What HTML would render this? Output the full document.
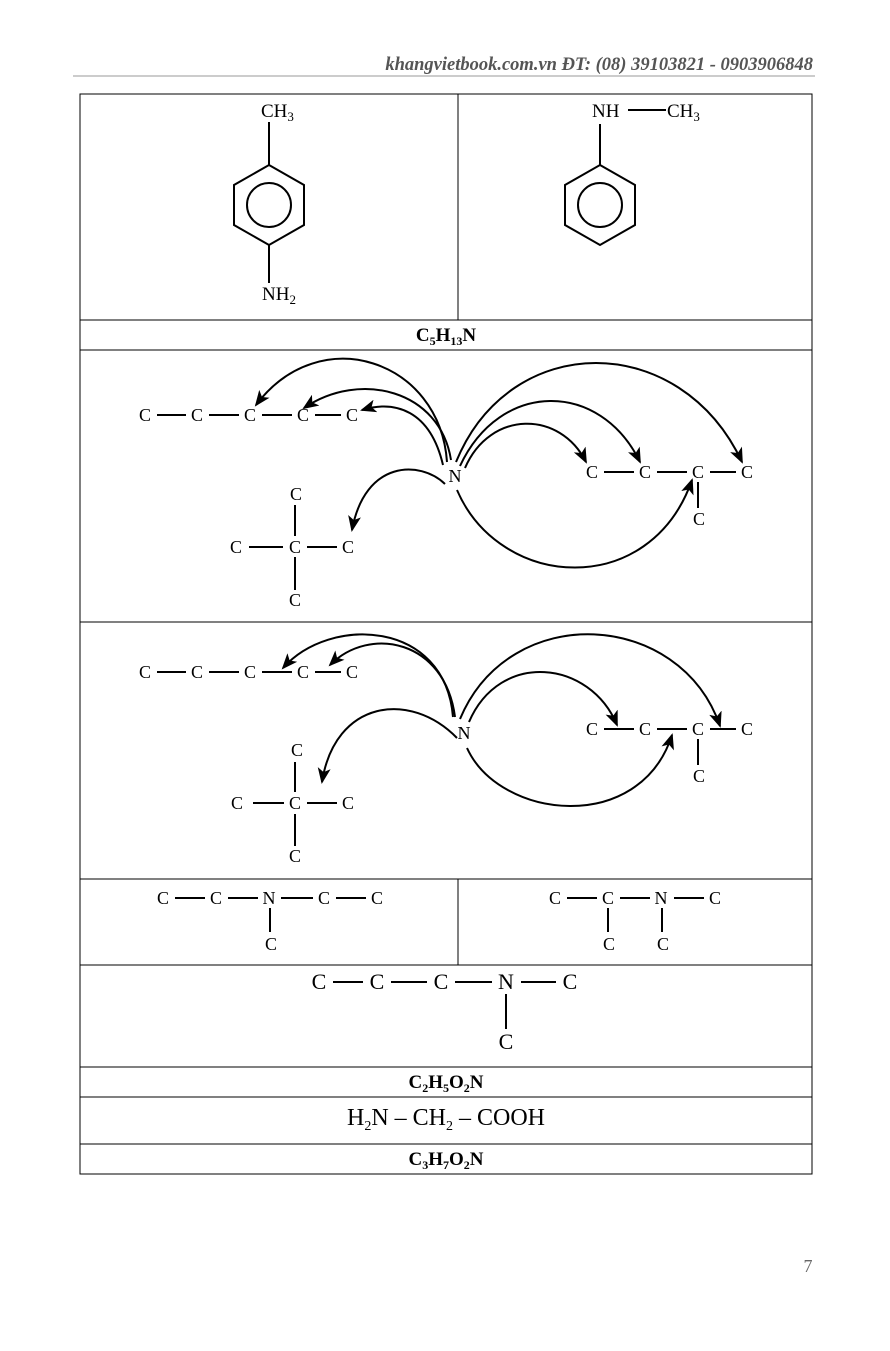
<!DOCTYPE html>
<html><head><style>
body{margin:0;background:#fff}
svg text{font-family:"Liberation Serif",serif;fill:#000}
</style></head><body>
<svg width="890" height="1346" viewBox="0 0 890 1346" xmlns="http://www.w3.org/2000/svg">
<defs>
<marker id="a" markerWidth="16" markerHeight="13" refX="14" refY="6.5" orient="auto" markerUnits="userSpaceOnUse">
<path d="M0,0 L16,6.5 L0,13 L4,6.5 Z" fill="#000"/>
</marker>
</defs>
<text x="813" y="70" text-anchor="end" font-size="18.5" font-style="italic" font-weight="bold" style="fill:#555">khangvietbook.com.vn  ĐT: (08) 39103821 - 0903906848</text>
<line x1="73" y1="76" x2="815" y2="76" stroke="#999" stroke-width="1"/>
<g stroke="#000" stroke-width="1" fill="none">
<rect x="80" y="94" width="732" height="1080"/>
<line x1="80" y1="320" x2="812" y2="320"/><line x1="80" y1="350" x2="812" y2="350"/>
<line x1="80" y1="622" x2="812" y2="622"/><line x1="80" y1="879" x2="812" y2="879"/>
<line x1="80" y1="965" x2="812" y2="965"/><line x1="80" y1="1067" x2="812" y2="1067"/>
<line x1="80" y1="1097" x2="812" y2="1097"/><line x1="80" y1="1144" x2="812" y2="1144"/>
<line x1="458" y1="94" x2="458" y2="320"/><line x1="458" y1="879" x2="458" y2="965"/>
</g>
<g stroke="#000" stroke-width="2" fill="none">
<polygon points="269,165 304,185 304,225 269,245 234,225 234,185"/>
<circle cx="269" cy="205" r="22"/>
<line x1="269" y1="122" x2="269" y2="165"/><line x1="269" y1="245" x2="269" y2="283"/>
<polygon points="600,165 635,185 635,225 600,245 565,225 565,185"/>
<circle cx="600" cy="205" r="22"/>
<line x1="600" y1="124" x2="600" y2="165"/><line x1="628" y1="110" x2="666" y2="110"/>
</g>
<g font-size="19">
<text x="261" y="117">CH<tspan font-size="13" dy="4">3</tspan></text>
<text x="262" y="300">NH<tspan font-size="13" dy="4">2</tspan></text>
<text x="592" y="117">NH</text>
<text x="667" y="117">CH<tspan font-size="13" dy="4">3</tspan></text>
</g>
<text x="446" y="341" text-anchor="middle" font-size="19" font-weight="bold">C<tspan font-size="12" dy="4">5</tspan><tspan dy="-4">H</tspan><tspan font-size="12" dy="4">13</tspan><tspan dy="-4">N</tspan></text>

<!-- diagram 1 -->
<g font-size="18" text-anchor="middle">
<text x="145" y="421">C</text><text x="197" y="421">C</text><text x="250" y="421">C</text><text x="303" y="421">C</text><text x="352" y="421">C</text>
<text x="455" y="482">N</text>
<text x="592" y="478">C</text><text x="645" y="478">C</text><text x="698" y="478">C</text><text x="747" y="478">C</text><text x="699" y="525">C</text>
<text x="296" y="500">C</text><text x="236" y="553">C</text><text x="295" y="553">C</text><text x="348" y="553">C</text><text x="295" y="606">C</text>
</g>
<g stroke="#000" stroke-width="2" fill="none">
<line x1="157" y1="415" x2="186" y2="415"/><line x1="209" y1="415" x2="239" y2="415"/><line x1="262" y1="415" x2="292" y2="415"/><line x1="315" y1="415" x2="341" y2="415"/>
<line x1="604" y1="472" x2="634" y2="472"/><line x1="657" y1="472" x2="687" y2="472"/><line x1="710" y1="472" x2="736" y2="472"/><line x1="698" y1="482" x2="698" y2="508"/>
<line x1="249" y1="547" x2="283" y2="547"/><line x1="307" y1="547" x2="337" y2="547"/><line x1="295" y1="505" x2="295" y2="536"/><line x1="295" y1="557" x2="295" y2="590"/>
</g>
<g stroke="#000" stroke-width="2" fill="none" marker-end="url(#a)">
<path d="M447,462 C440,360 320,320 256,405"/>
<path d="M451,460 C440,390 360,370 304,408"/>
<path d="M443,465 C430,410 395,400 362,410"/>
<path d="M445,484 C420,460 365,460 352,530"/>
<path d="M456,462 C510,330 680,330 742,462"/>
<path d="M460,466 C500,380 600,380 640,462"/>
<path d="M465,468 C490,410 560,410 586,462"/>
<path d="M457,490 C500,590 650,600 692,480"/>
</g>

<!-- diagram 2 -->
<g font-size="18" text-anchor="middle">
<text x="145" y="678">C</text><text x="197" y="678">C</text><text x="250" y="678">C</text><text x="303" y="678">C</text><text x="352" y="678">C</text>
<text x="464" y="739">N</text>
<text x="592" y="735">C</text><text x="645" y="735">C</text><text x="698" y="735">C</text><text x="747" y="735">C</text><text x="699" y="782">C</text>
<text x="297" y="756">C</text><text x="237" y="809">C</text><text x="295" y="809">C</text><text x="348" y="809">C</text><text x="295" y="862">C</text>
</g>
<g stroke="#000" stroke-width="2" fill="none">
<line x1="157" y1="672" x2="186" y2="672"/><line x1="209" y1="672" x2="239" y2="672"/><line x1="262" y1="672" x2="292" y2="672"/><line x1="315" y1="672" x2="341" y2="672"/>
<line x1="604" y1="729" x2="634" y2="729"/><line x1="657" y1="729" x2="687" y2="729"/><line x1="710" y1="729" x2="736" y2="729"/><line x1="698" y1="739" x2="698" y2="765"/>
<line x1="253" y1="803" x2="284" y2="803"/><line x1="307" y1="803" x2="337" y2="803"/><line x1="295" y1="762" x2="295" y2="792"/><line x1="295" y1="814" x2="295" y2="846"/>
</g>
<g stroke="#000" stroke-width="2" fill="none" marker-end="url(#a)">
<path d="M453,717 C445,620 330,615 283,668"/>
<path d="M455,717 C445,640 370,625 330,665"/>
<path d="M457,738 C410,690 335,700 322,782"/>
<path d="M460,719 C510,600 680,610 720,726"/>
<path d="M469,722 C500,650 590,660 617,725"/>
<path d="M467,748 C500,820 640,835 672,735"/>
</g>

<!-- small structures -->
<g font-size="18" text-anchor="middle">
<text x="163" y="904">C</text><text x="216" y="904">C</text><text x="269" y="904">N</text><text x="324" y="904">C</text><text x="377" y="904">C</text><text x="271" y="950">C</text>
<text x="555" y="904">C</text><text x="608" y="904">C</text><text x="661" y="904">N</text><text x="715" y="904">C</text><text x="609" y="950">C</text><text x="663" y="950">C</text>
</g>
<g stroke="#000" stroke-width="2" fill="none">
<line x1="175" y1="898" x2="205" y2="898"/><line x1="228" y1="898" x2="258" y2="898"/><line x1="281" y1="898" x2="313" y2="898"/><line x1="336" y1="898" x2="366" y2="898"/><line x1="270" y1="908" x2="270" y2="932"/>
<line x1="567" y1="898" x2="597" y2="898"/><line x1="620" y1="898" x2="650" y2="898"/><line x1="674" y1="898" x2="704" y2="898"/><line x1="608" y1="908" x2="608" y2="932"/><line x1="662" y1="908" x2="662" y2="932"/>
</g>
<g font-size="22" text-anchor="middle">
<text x="319" y="989">C</text><text x="377" y="989">C</text><text x="441" y="989">C</text><text x="506" y="989">N</text><text x="570" y="989">C</text><text x="506" y="1049">C</text>
</g>
<g stroke="#000" stroke-width="2" fill="none">
<line x1="333" y1="982" x2="363" y2="982"/><line x1="391" y1="982" x2="427" y2="982"/><line x1="455" y1="982" x2="492" y2="982"/><line x1="521" y1="982" x2="556" y2="982"/><line x1="506" y1="994" x2="506" y2="1029"/>
</g>
<text x="446" y="1088" text-anchor="middle" font-size="19" font-weight="bold">C<tspan font-size="12" dy="4">2</tspan><tspan dy="-4">H</tspan><tspan font-size="12" dy="4">5</tspan><tspan dy="-4">O</tspan><tspan font-size="12" dy="4">2</tspan><tspan dy="-4">N</tspan></text>
<text x="446" y="1125" text-anchor="middle" font-size="24">H<tspan font-size="14" dy="5">2</tspan><tspan dy="-5">N – CH</tspan><tspan font-size="14" dy="5">2</tspan><tspan dy="-5"> – COOH</tspan></text>
<text x="446" y="1165" text-anchor="middle" font-size="19" font-weight="bold">C<tspan font-size="12" dy="4">3</tspan><tspan dy="-4">H</tspan><tspan font-size="12" dy="4">7</tspan><tspan dy="-4">O</tspan><tspan font-size="12" dy="4">2</tspan><tspan dy="-4">N</tspan></text>
<text x="808" y="1272" text-anchor="middle" font-size="18" style="fill:#666">7</text>
</svg>
</body></html>
